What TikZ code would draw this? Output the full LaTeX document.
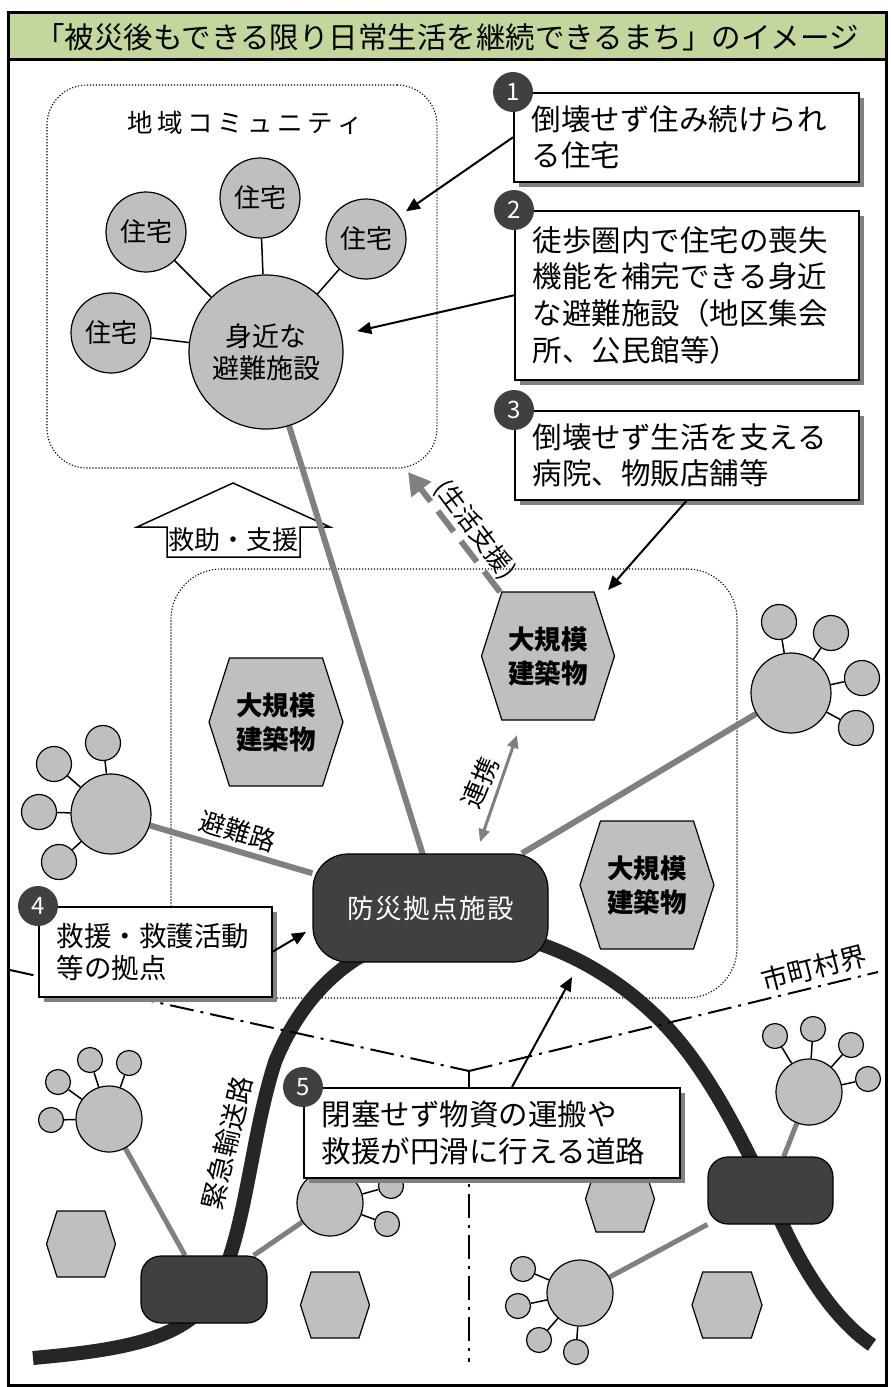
\documentclass[tikz,border=0pt]{standalone}
\usepackage{fontspec}
\setmainfont{Noto Sans CJK JP}
\usetikzlibrary{arrows.meta,calc,shadows}
\definecolor{titlegreen}{HTML}{C3D69B}
\definecolor{hexgray}{HTML}{BFBFBF}
\definecolor{darkbox}{HTML}{404040}
\definecolor{roadc}{HTML}{262626}
\definecolor{linegray}{HTML}{808080}
\pgfdeclarelayer{l0}\pgfdeclarelayer{l1}\pgfdeclarelayer{l2}
\pgfsetlayers{l0,l1,l2,main}
\newcommand{\FS}[2]{\fontsize{#1}{#2}\selectfont}
\newcommand{\HexShape}[6]{%
  \filldraw[hexline] ({#2-0.5*#4},#3) -- ({#2-0.347*#4},{#3-0.5*#5}) -- ({#2+0.347*#4},{#3-0.5*#5}) -- ({#2+0.5*#4},#3) -- ({#2+0.347*#4},{#3+0.5*#5}) -- ({#2-0.347*#4},{#3+0.5*#5}) -- cycle;
  \node[hextext] (#1) at (#2,#3) {#6};}
\begin{document}
\begin{tikzpicture}[x=1pt,y=-1pt,
  house/.style={circle,draw=black,line width=1.2pt,fill=hexgray,minimum size=80pt,inner sep=0pt,font=\FS{26}{28}},
  bighub/.style={circle,draw=black,line width=1.2pt,fill=hexgray,minimum size=154pt,inner sep=0pt,align=center,font=\FS{27}{32}},
  hubL/.style={circle,draw=black,line width=1.2pt,fill=hexgray,minimum size=80pt,inner sep=0pt},
  satL/.style={circle,draw=black,line width=1.2pt,fill=hexgray,minimum size=35pt,inner sep=0pt},
  hubS/.style={circle,draw=black,line width=1.2pt,fill=hexgray,minimum size=66pt,inner sep=0pt},
  satS/.style={circle,draw=black,line width=1.2pt,fill=hexgray,minimum size=25pt,inner sep=0pt},
  hexline/.style={draw=black,line width=1.2pt,fill=hexgray},
  hextext/.style={align=center,font=\bfseries\FS{26.5}{34},inner sep=0pt},
  facil/.style={draw=black,line width=1.2pt,fill=darkbox,rounded corners=35pt,minimum width=235pt,minimum height=108pt,text=white,font=\FS{26.5}{26}},
  smallfac/.style={draw=black,line width=1.2pt,fill=darkbox,rounded corners=20pt,minimum width=126pt,minimum height=67pt},
  dotbox/.style={draw=black,line width=1.1pt,dash pattern=on 1.2pt off 1.8pt},
  callout/.style={draw=black,line width=1.5pt,fill=white,drop shadow={shadow xshift=5pt,shadow yshift=-5pt,fill=linegray,opacity=1},anchor=north west,align=left,inner xsep=18pt,inner ysep=0pt,font=\FS{29.5}{36.7}},
  numc/.style={circle,fill=darkbox,text=white,minimum size=40pt,inner sep=0pt,font=\FS{24}{24}},
  blk/.style={draw=black,line width=2pt,-{Triangle[length=14pt,width=12pt]}},
  grayarr/.style={draw=linegray,line width=3pt,{Triangle[length=13pt,width=11pt]}-{Triangle[length=13pt,width=11pt]}},
  dasharr/.style={draw=linegray,line width=6pt,dash pattern=on 26pt off 12pt,-{Triangle[length=22pt,width=24pt]}},
  gline/.style={draw=linegray,line width=6pt},
  glineS/.style={draw=linegray,line width=5pt},
  thin/.style={draw=black,line width=1.5pt},
  road/.style={draw=roadc,line width=14pt},
  border/.style={draw=black,line width=2pt,dash pattern=on 24pt off 7pt on 3pt off 7pt},
  lbl/.style={font=\FS{26}{26},inner sep=1pt}
]
\useasboundingbox (0,0) rectangle (891,1387);

% dotted areas and block arrow
\begin{pgfonlayer}{l0}
\fill[white] (0,0) rectangle (891,1387);
\node[dotbox,rounded corners=40pt,minimum width=390pt,minimum height=383pt] (comm) at (242,276.5) {};
\node[dotbox,rounded corners=50pt,minimum width=566pt,minimum height=429pt] (zone) at (454,783.5) {};
\filldraw[draw=black,fill=white,line width=1.5pt] (167,557) -- (167,527) -- (137,527) -- (233,483) -- (330,527) -- (300,527) -- (300,557) -- cycle;
\end{pgfonlayer}

% title bar
\fill[titlegreen] (8,12) rectangle (886,59);
\node[font=\FS{29.5}{32}] (title) at (447,37) {「被災後もできる限り日常生活を継続できるまち」のイメージ};

\node[font=\FS{26}{26}] (kyujo) at (233,540) {救助・支援};

% community
\node[lbl,font=\FS{25.5}{26}] (commlbl) at (245,123) {地\kern4.5pt 域\kern4.5pt コ\kern4.5pt ミ\kern4.5pt ュ\kern4.5pt ニ\kern4.5pt テ\kern4.5pt ィ};
\node[house] (hA) at (260,198) {住宅};
\node[house] (hB) at (146,232) {住宅};
\node[house] (hC) at (366,239) {住宅};
\node[house] (hD) at (111,333) {住宅};
\node[bighub] (bigc) at (266,352) {身近な\\避難施設};

% clusters
\node[hubL] (lc) at (111,814) {};
\node[satL] (lc1) at (103,743) {};
\node[satL] (lc2) at (54,764) {};
\node[satL] (lc3) at (39,812) {};
\node[satL] (lc4) at (59,862) {};

\node[hubL] (rc) at (791,693) {};
\node[satL] (rc1) at (779,622) {};
\node[satL] (rc2) at (831,633) {};
\node[satL] (rc3) at (862,678) {};
\node[satL] (rc4) at (856,728) {};

\node[hubS] (blc) at (109,1119) {};
\node[satS] (blc1) at (90,1060) {};
\node[satS] (blc2) at (129,1063) {};
\node[satS] (blc3) at (58,1082) {};
\node[satS] (blc4) at (51,1120) {};

\node[hubS] (mbc) at (330,1203) {};
\node[satS] (mbc1) at (391,1186) {};
\node[satS] (mbc2) at (387,1224) {};

\node[hubS] (urc) at (809,1092) {};
\node[satS] (urc1) at (775,1036) {};
\node[satS] (urc2) at (813,1029) {};
\node[satS] (urc3) at (851,1045) {};
\node[satS] (urc4) at (868,1079) {};

\node[hubS] (lwc) at (580,1293) {};
\node[satS] (lwc1) at (523,1269) {};
\node[satS] (lwc2) at (518,1306) {};
\node[satS] (lwc3) at (539,1340) {};
\node[satS] (lwc4) at (576,1352) {};

% hexagons
\HexShape{hx1}{276}{722}{134}{128}{大規模\\建築物}
\HexShape{hx2}{548}{656}{133}{128}{大規模\\建築物}
\HexShape{hx3}{647}{885}{134}{128}{大規模\\建築物}
\HexShape{hs1}{81}{1244}{69}{66}{}
\HexShape{hs2}{335}{1305}{69}{66}{}
\HexShape{hs3}{620}{1199}{69}{66}{}
\HexShape{hs4}{727}{1305}{70}{66}{}

% facilities
\node[facil] (fac) at (430.5,908) {防\kern1.5pt 災\kern1.5pt 拠\kern1.5pt 点\kern1.5pt 施\kern1.5pt 設};
\node[smallfac] (d1) at (204,1289.5) {};
\node[smallfac,minimum width=125pt] (d2) at (770.5,1190.5) {};

% road and boundary
\begin{pgfonlayer}{l1}
\draw[road] (33,1358) .. controls (120,1350) and (190,1340) .. (215,1290)
  .. controls (245,1240) and (250,1140) .. (275,1062)
  .. controls (300,1000) and (350,940) .. (440,930)
  .. controls (520,925) and (600,960) .. (660,1020)
  .. controls (720,1080) and (760,1180) .. (790,1240)
  .. controls (820,1300) and (850,1330) .. (872,1345);
\coordinate (bL) at (10,970);
\coordinate (bJ) at (469,1071);
\coordinate (bR) at (878,972);
\coordinate (bB) at (469,1362);
\draw[border] (bL) -- (bJ);
\draw[border] (bJ) -- (bR);
\draw[border] (bJ) -- (bB);
\end{pgfonlayer}

% connectors
\begin{pgfonlayer}{l2}
\draw[thin] (hA) -- (bigc);
\draw[thin] (hB) -- (bigc);
\draw[thin] (hC) -- (bigc);
\draw[thin] (hD) -- (bigc);
\foreach \s in {lc1,lc2,lc3,lc4} \draw[thin] (\s) -- (lc);
\foreach \s in {rc1,rc2,rc3,rc4} \draw[thin] (\s) -- (rc);
\foreach \s in {blc1,blc2,blc3,blc4} \draw[thin] (\s) -- (blc);
\foreach \s in {mbc1,mbc2} \draw[thin] (\s) -- (mbc);
\foreach \s in {urc1,urc2,urc3,urc4} \draw[thin] (\s) -- (urc);
\foreach \s in {lwc1,lwc2,lwc3,lwc4} \draw[thin] (\s) -- (lwc);
\draw[gline] (bigc) -- ($(fac.center)+(9,0)$);
\draw[gline] (lc) -- (fac);
\draw[gline] (fac) -- (rc);
\draw[glineS] (blc) -- (d1);
\draw[glineS] (mbc) -- (d1);
\draw[glineS] (urc) -- (d2);
\draw[glineS] (lwc) -- (d2);
\end{pgfonlayer}

% labels
\node[lbl,rotate=-17] (l1) at (238,831) {避難路};
\node[lbl,rotate=77,font=\FS{27}{27}] (l2) at (227,1143) {緊急輸送路};
\node[lbl,rotate=14.5,font=\FS{27}{27}] (l3) at (814,968) {市町村界};

% gray arrows
\coordinate (g1) at (500,592);
\coordinate (g2) at (408,472);
\draw[dasharr] (g1) -- (g2);
\node[lbl,rotate=-53,font=\FS{25}{25}] (l4) at (475,530) {(生活支援)};
\coordinate (r1) at (517,735);
\coordinate (r2) at (480,842);
\draw[grayarr] (r1) -- (r2);
\node[lbl,rotate=67] (l5) at (480,783) {連携};

% callouts
\node[callout,text width=309pt,minimum height=89pt] (b1) at (513,92) {倒壊せず住み続けられ\\る住宅};
\node[callout,text width=308pt,minimum height=169pt] (b2) at (514,210) {徒歩圏内で住宅の喪失\\機能を補完できる身近\\な避難施設（地区集会\\所、公民館等）};
\node[callout,text width=308pt,minimum height=89pt] (b3) at (514,410) {倒壊せず生活を支える\\病院、物販店舗等};
\node[callout,font=\FS{27.5}{32},text width=197pt,minimum height=90pt] (b4) at (38,906) {救援・救護活動\\等の拠点};
\node[callout,text width=340pt,minimum height=90pt] (b5) at (303,1087) {閉塞せず物資の運搬や\\救援が円滑に行える道路};

\node[numc] (n1) at (b1.north west) {1};
\node[numc] (n2) at (b2.north west) {2};
\node[numc] (n3) at (b3.north west) {3};
\node[numc] (n4) at (b4.north west) {4};
\node[numc] (n5) at (b5.north west) {5};

% black arrows
\draw[blk,shorten >=8pt] (b1.west) -- (hC);
\draw[blk,shorten >=16pt] (b2.west) -- (bigc);
\coordinate (t3) at (608,590);
\draw[blk] (b3.south) -- (t3);
\coordinate (t4) at (306,932);
\draw[blk] (b4.east) -- (t4);
\coordinate (t5) at (572,977);
\draw[blk] ($(b5.north west)+(209,0)$) -- (t5);

% frame
\draw[black,line width=3pt] (8,12) rectangle (886,1385);
\draw[black,line width=3pt] (8,59) -- (886,59);
\end{tikzpicture}
\end{document}
